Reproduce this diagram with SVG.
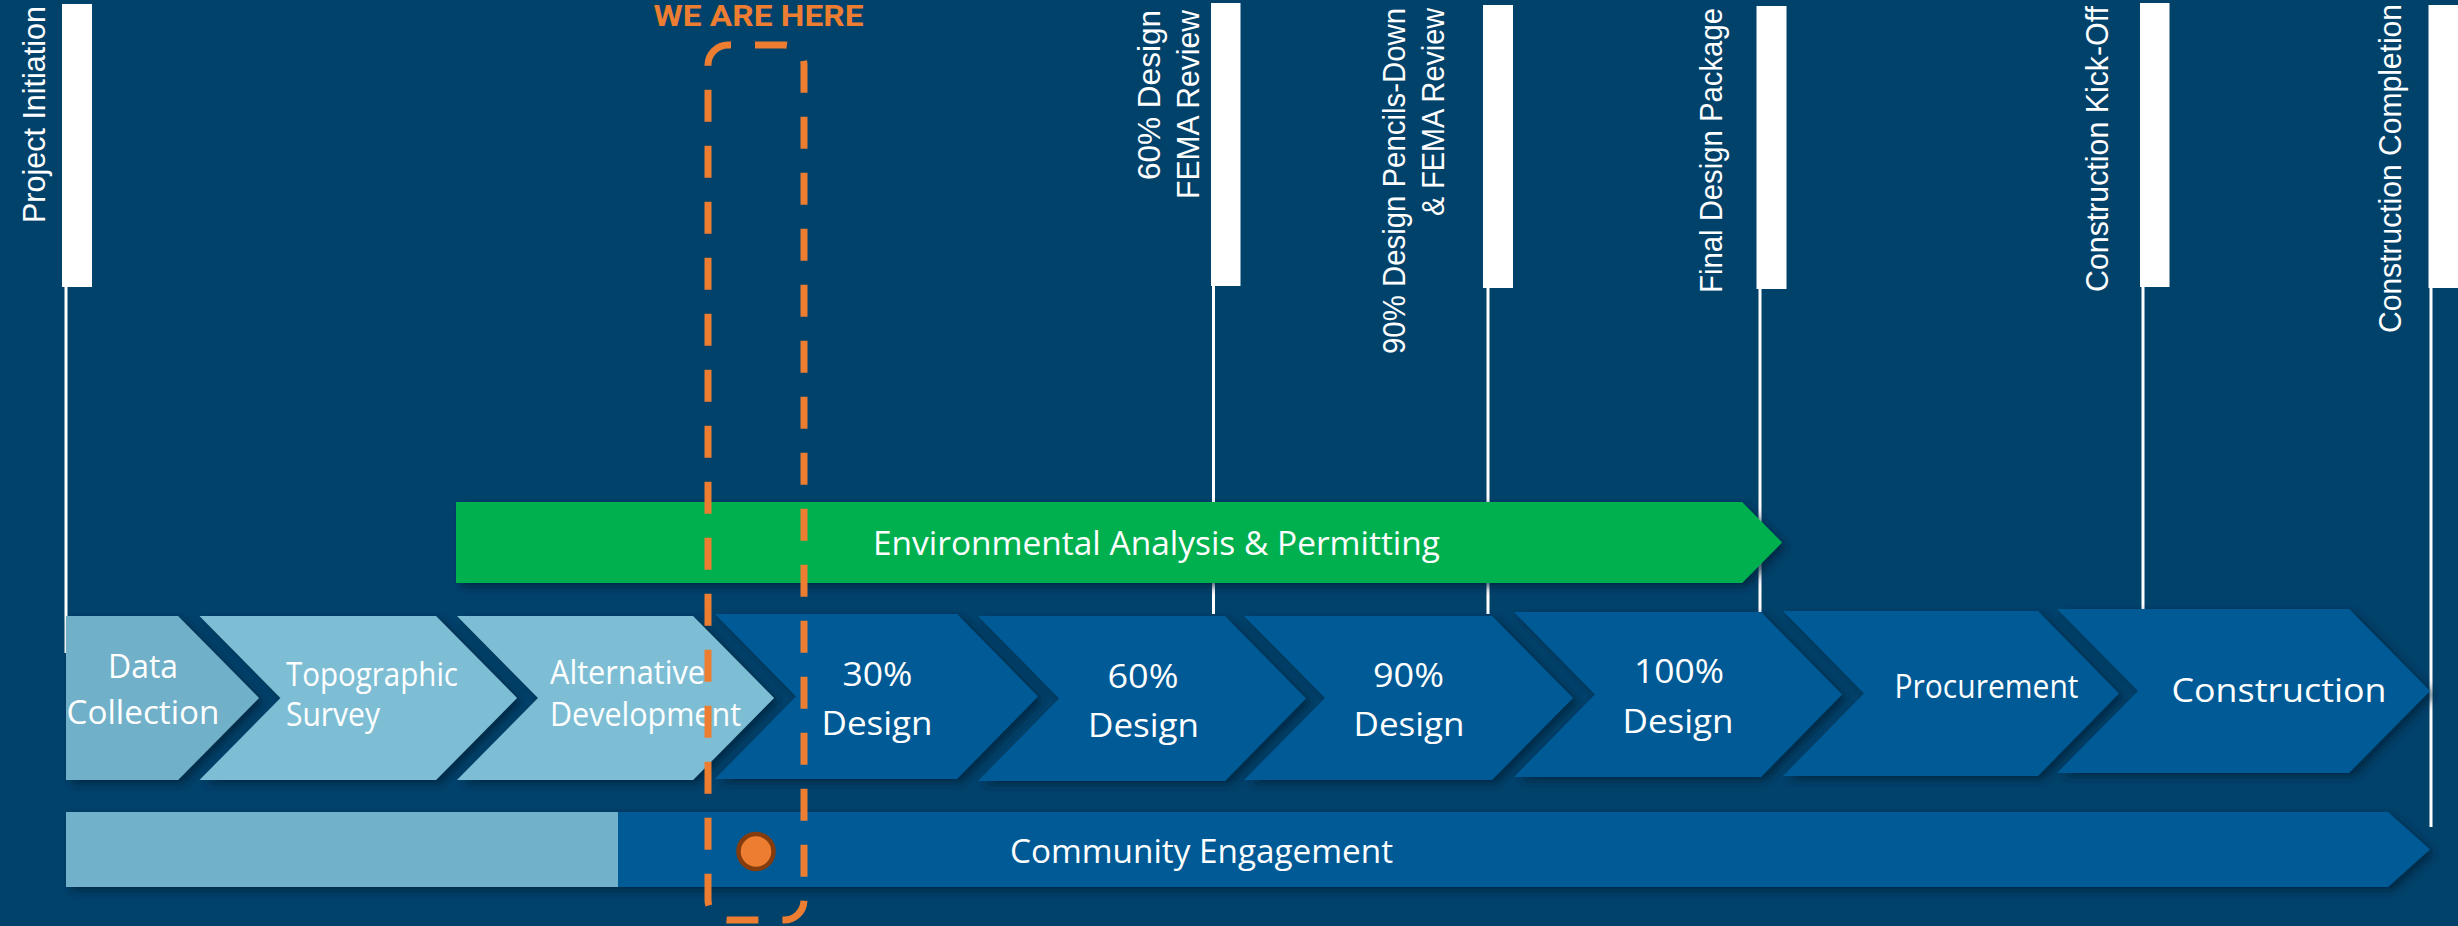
<svg xmlns="http://www.w3.org/2000/svg" width="2458" height="926" viewBox="0 0 2458 926">
  <defs>
    <style>
      .ms-label { font-family: "Liberation Sans", Arial, sans-serif; font-size: 31.5px; fill: #ffffff; }
      .ms-bar { fill: #ffffff; }
      .ms-line { stroke: #ffffff; stroke-width: 3; fill: none; }
      .phase-light { fill: #7EBED5; }
      .phase-first { fill: #70B0C8; }
      .phase-dark { fill: #005A96; }
      .phase-text { font-family: "Open Sans", "Noto Sans", sans-serif; font-size: 33px; fill: #ffffff; }
      .track-green { fill: #00B050; }
      .here { stroke: #ED7D31; stroke-width: 7; fill: none; stroke-dasharray: 32 24; stroke-dashoffset: 29; }
      .here-text { font-family: Roboto, "Liberation Sans", sans-serif; font-weight: 700; font-size: 30px; fill: #ED7D31; }
    </style>
    <filter id="shadow" x="-5%" y="-10%" width="115%" height="135%">
      <feDropShadow dx="5" dy="4" stdDeviation="4" flood-color="#00203a" flood-opacity="0.75"/>
    </filter>
  </defs>

  <!-- background -->
  <rect x="0" y="0" width="2458" height="926" fill="#01426B"/>

  <!-- milestone connectors: thin drop lines from each marker -->
  <g id="connectors">
    <line class="ms-line" x1="66" y1="286" x2="66" y2="653"/>
    <line class="ms-line" x1="1213.5" y1="285" x2="1213.5" y2="614"/>
    <line class="ms-line" x1="1488" y1="287" x2="1488" y2="614"/>
    <line class="ms-line" x1="1760" y1="288" x2="1760" y2="612"/>
    <line class="ms-line" x1="2143" y1="286" x2="2143" y2="610"/>
    <line class="ms-line" x1="2431" y1="287" x2="2431" y2="827"/>
  </g>

  <!-- milestones -->
  <g id="ms-project-initiation">
    <rect class="ms-bar" x="62" y="4" width="30" height="283"/>
    <text class="ms-label" transform="translate(44.5,223) rotate(-90)" textLength="217" lengthAdjust="spacingAndGlyphs">Project Initiation</text>
  </g>
  <g id="ms-60-design">
    <rect class="ms-bar" x="1211" y="3" width="29.5" height="283"/>
    <text class="ms-label" text-anchor="end" transform="translate(1160,10) rotate(-90)" textLength="170" lengthAdjust="spacingAndGlyphs">60% Design</text>
    <text class="ms-label" text-anchor="end" transform="translate(1198.5,10) rotate(-90)" textLength="189" lengthAdjust="spacingAndGlyphs">FEMA Review</text>
  </g>
  <g id="ms-90-design">
    <rect class="ms-bar" x="1483" y="5" width="30" height="283"/>
    <text class="ms-label" text-anchor="end" transform="translate(1405,8) rotate(-90)" textLength="346" lengthAdjust="spacingAndGlyphs">90% Design Pencils-Down</text>
    <text class="ms-label" text-anchor="end" transform="translate(1444,8) rotate(-90)" textLength="208" lengthAdjust="spacingAndGlyphs">&amp; FEMA Review</text>
  </g>
  <g id="ms-final-design">
    <rect class="ms-bar" x="1756.5" y="6" width="30" height="283"/>
    <text class="ms-label" text-anchor="end" transform="translate(1722,8) rotate(-90)" textLength="285" lengthAdjust="spacingAndGlyphs">Final Design Package</text>
  </g>
  <g id="ms-construction-kickoff">
    <rect class="ms-bar" x="2140" y="3" width="29.5" height="284"/>
    <text class="ms-label" text-anchor="end" transform="translate(2107.5,6) rotate(-90)" textLength="286" lengthAdjust="spacingAndGlyphs">Construction Kick-Off</text>
  </g>
  <g id="ms-construction-completion">
    <rect class="ms-bar" x="2428.5" y="5" width="32" height="283"/>
    <text class="ms-label" text-anchor="end" transform="translate(2400.5,4) rotate(-90)" textLength="329" lengthAdjust="spacingAndGlyphs">Construction Completion</text>
  </g>

  <!-- environmental track -->
  <g id="environmental-permitting">
    <path class="track-green" filter="url(#shadow)" d="M456,502 H1742 L1782,542.5 L1742,583 H456 Z"/>
    <text class="phase-text" x="873" y="555" font-size="34" textLength="567" lengthAdjust="spacingAndGlyphs">Environmental Analysis &amp; Permitting</text>
  </g>

  <!-- project phases -->
  <g id="phase-data-collection">
    <path class="phase-first" filter="url(#shadow)" d="M66,616 H178 L259,698 L178,780 H66 Z"/>
    <text class="phase-text" x="143" y="678" text-anchor="middle" textLength="70" lengthAdjust="spacingAndGlyphs">Data</text>
    <text class="phase-text" x="143" y="724" text-anchor="middle" textLength="153" lengthAdjust="spacingAndGlyphs">Collection</text>
  </g>
  <g id="phase-topographic-survey">
    <path class="phase-light" filter="url(#shadow)" d="M199.5,616 H436 L517,698 L436,780 H199.5 L280.5,698 Z"/>
    <text class="phase-text" x="286" y="686" textLength="172" lengthAdjust="spacingAndGlyphs">Topographic</text>
    <text class="phase-text" x="286" y="726" textLength="94" lengthAdjust="spacingAndGlyphs">Survey</text>
  </g>
  <g id="phase-alternative-development">
    <path class="phase-light" filter="url(#shadow)" d="M457,616 H693 L774,698 L693,780 H457 L538,698 Z"/>
    <text class="phase-text" x="550" y="684" textLength="155" lengthAdjust="spacingAndGlyphs">Alternative</text>
    <text class="phase-text" x="550" y="726" textLength="191" lengthAdjust="spacingAndGlyphs">Development</text>
  </g>
  <g id="phase-30-design">
    <path class="phase-dark" filter="url(#shadow)" d="M715,614 H957 L1038,696.5 L957,779 H715 L796,696.5 Z"/>
    <text class="phase-text" x="877.5" y="686" text-anchor="middle" textLength="70" lengthAdjust="spacingAndGlyphs">30%</text>
    <text class="phase-text" x="877" y="735" text-anchor="middle" textLength="111" lengthAdjust="spacingAndGlyphs">Design</text>
  </g>
  <g id="phase-60-design">
    <path class="phase-dark" filter="url(#shadow)" d="M978,616 H1225 L1306,698.5 L1225,781 H978 L1059,698.5 Z"/>
    <text class="phase-text" x="1143" y="688" text-anchor="middle" textLength="71" lengthAdjust="spacingAndGlyphs">60%</text>
    <text class="phase-text" x="1143.5" y="737" text-anchor="middle" textLength="111" lengthAdjust="spacingAndGlyphs">Design</text>
  </g>
  <g id="phase-90-design">
    <path class="phase-dark" filter="url(#shadow)" d="M1244,616 H1492 L1573,698 L1492,780 H1244 L1325,698 Z"/>
    <text class="phase-text" x="1408.5" y="687" text-anchor="middle" textLength="71" lengthAdjust="spacingAndGlyphs">90%</text>
    <text class="phase-text" x="1409" y="736" text-anchor="middle" textLength="111" lengthAdjust="spacingAndGlyphs">Design</text>
  </g>
  <g id="phase-100-design">
    <path class="phase-dark" filter="url(#shadow)" d="M1514,612 H1761 L1842,694.5 L1761,777 H1514 L1595,694.5 Z"/>
    <text class="phase-text" x="1679" y="683" text-anchor="middle" textLength="90" lengthAdjust="spacingAndGlyphs">100%</text>
    <text class="phase-text" x="1678" y="733" text-anchor="middle" textLength="111" lengthAdjust="spacingAndGlyphs">Design</text>
  </g>
  <g id="phase-procurement">
    <path class="phase-dark" filter="url(#shadow)" d="M1783,611 H2038 L2119,693.5 L2038,776 H1783 L1864,693.5 Z"/>
    <text class="phase-text" x="1986.5" y="698" font-size="30" text-anchor="middle" textLength="184" lengthAdjust="spacingAndGlyphs">Procurement</text>
  </g>
  <g id="phase-construction">
    <path class="phase-dark" filter="url(#shadow)" d="M2057,609 H2349 L2430,691 L2349,773 H2057 L2138,691 Z"/>
    <text class="phase-text" x="2279" y="702" font-size="37" text-anchor="middle" textLength="215" lengthAdjust="spacingAndGlyphs">Construction</text>
  </g>

  <!-- community engagement track -->
  <g id="community-engagement">
    <path class="phase-dark" filter="url(#shadow)" d="M66,812 H2388 L2430,849.5 L2388,887 H66 Z"/>
    <rect x="66" y="812" width="552" height="75" fill="#71B1CA"/>
    <text class="phase-text" x="1010" y="863" textLength="383" lengthAdjust="spacingAndGlyphs">Community Engagement</text>
  </g>

  <!-- current position marker -->
  <g id="we-are-here">
    <circle cx="756" cy="851.5" r="17.5" fill="#ED7D31" stroke="#843C0C" stroke-width="4.5"/>
    <path class="here" d="M728,45 H784 A20,20 0 0 1 804,65 V900 A20,20 0 0 1 784,920 H728 A20,20 0 0 1 708,900 V65 A20,20 0 0 1 728,45 Z"/>
    <text class="here-text" x="653.5" y="25.5" textLength="210" lengthAdjust="spacingAndGlyphs">WE ARE HERE</text>
  </g>
</svg>
